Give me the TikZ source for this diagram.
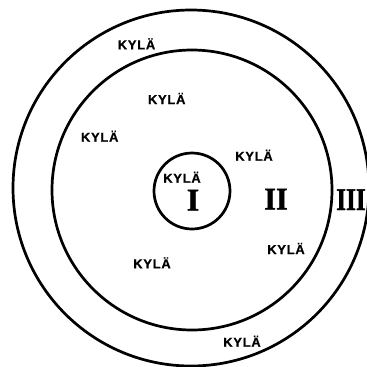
\documentclass[tikz,border=0pt]{standalone}
\usepackage{fontspec}
\usepackage{tikz}
\newfontfamily\kylafont[LetterSpace=6,FakeBold=0.8]{Liberation Sans}
\newfontfamily\zonefont[FakeBold=1.5]{Liberation Serif}
\tikzset{
  ring/.style={draw=black, line width=2.1pt},
  kyla/.style={anchor=base, inner sep=0pt, font=\kylafont\bfseries\fontsize{10}{12}\selectfont},
  zone/.style={anchor=base, inner sep=0pt, font=\zonefont\bfseries\fontsize{24.5}{26}\selectfont}
}

\begin{document}
\begin{tikzpicture}[x=0.02725cm,y=-0.02725cm]
    \useasboundingbox (0,0) rectangle (367,367);
    % zones
    \draw[ring] (191,188) circle[radius=178];
    \draw[ring] (192,190) circle[radius=140];
    \draw[ring] (192,191) circle[radius=38];
    % villages
    \foreach \n/\x/\y in {1/136.5/49.3,2/166.7/104,3/99.7/141.7,4/254/160.7,5/182/182.7,6/152/268.3,7/286/254,8/242/346.7} {
      \node[kyla] (kyla\n) at (\x,\y) {KYLÄ};
    }
    \node[zone] (zoneI) at (193,210.5) {I};
    \node[zone, xscale=0.95] (zoneII) at (276,209.5) {II};
    \node[zone, xscale=0.8] (zoneIII) at (351,210) {III};
  \end{tikzpicture}
\end{document}
